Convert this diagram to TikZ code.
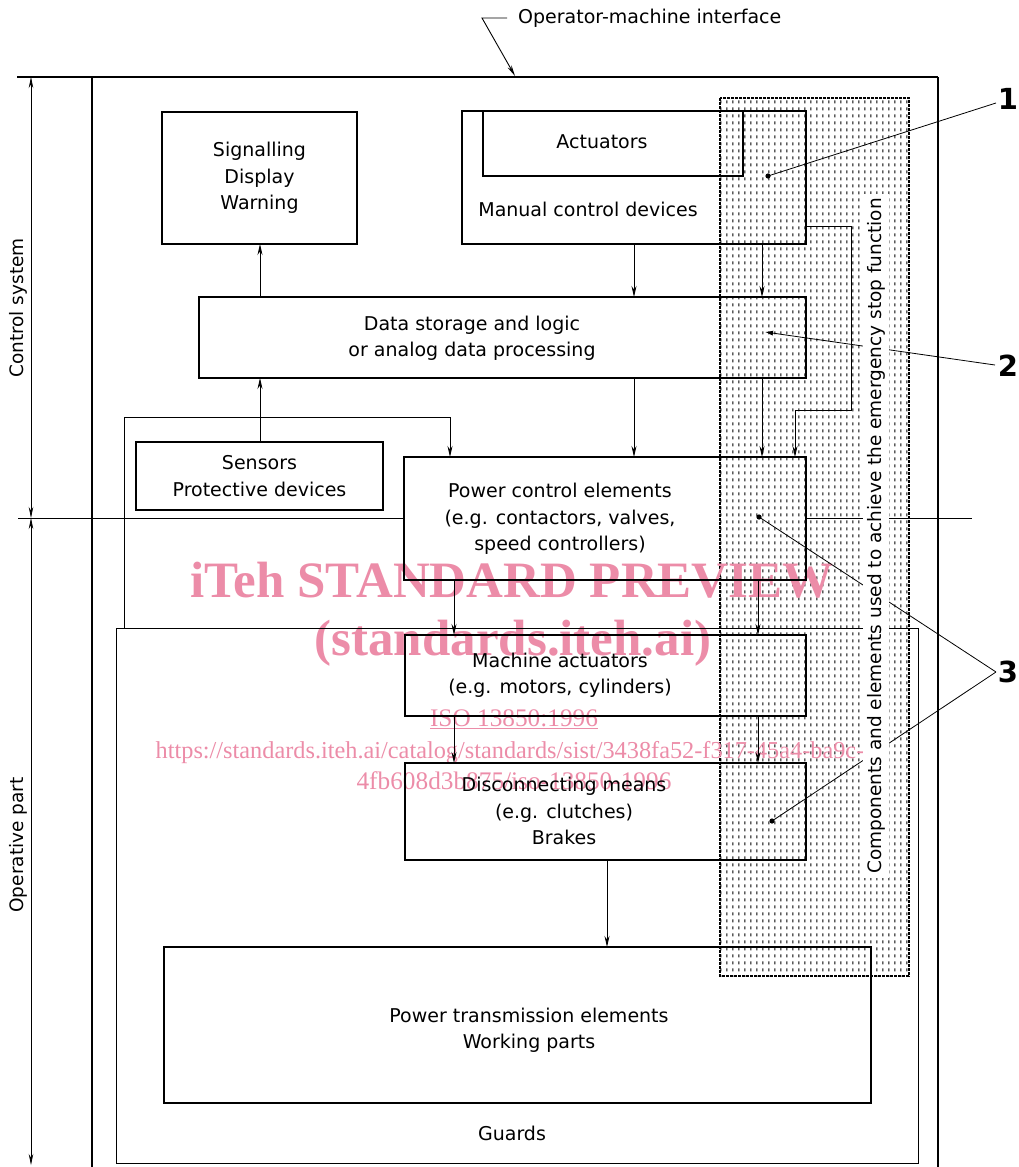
\documentclass[tikz,border=0pt]{standalone}
\usepackage{fontspec}
\setmainfont{DejaVu Sans}
\newfontfamily\wmfont{Liberation Serif}
\usetikzlibrary{arrows.meta,patterns.meta}
\pgfdeclarepattern{
  name=vdash,
  type=uncolored,
  bottom left={\pgfpoint{0pt}{0pt}},
  top right={\pgfpoint{6.3pt}{6.7pt}},
  tile size={\pgfpoint{6.3pt}{6.7pt}},
  code={
    \pgfsetlinewidth{1.1pt}
    \pgfpathmoveto{\pgfpoint{3.15pt}{1.8pt}}
    \pgfpathlineto{\pgfpoint{3.15pt}{4.9pt}}
    \pgfusepath{stroke}
  }
}
\definecolor{wm}{RGB}{236,140,168}
\begin{document}
\begin{tikzpicture}[x=1pt,y=-1pt,
  every node/.style={font={\fontsize{19pt}{26.5pt}\selectfont}},
  blk/.style={draw, line width=1.8pt, inner sep=0pt, outer sep=0pt, align=center},
  thinbox/.style={draw, line width=0.9pt, inner sep=0pt, outer sep=0pt},
  txt/.style={align=center, inner sep=0pt},
  arr/.style={line width=0.9pt, -{Stealth[length=11pt,width=5pt]}},
  dimarr/.style={line width=0.8pt, {Stealth[length=11pt,width=4.5pt]}-{Stealth[length=11pt,width=4.5pt]}},
  frame/.style={line width=1.5pt},
  numlbl/.style={font={\fontsize{29pt}{29pt}\selectfont\bfseries}, inner sep=0pt}
]
\useasboundingbox (0,0) rectangle (1018,1167);

% shaded region
\fill[pattern=vdash, pattern color=black] (720,98) rectangle (909,976);
\draw[line width=1.6pt, dash pattern=on 3pt off 1pt] (720,98) rectangle (909,976);

% watermark
\begin{scope}[every node/.style={text=wm, inner sep=0pt, anchor=base}]
\node (wm1) at (512,597) {\wmfont\bfseries\fontsize{51pt}{51pt}\selectfont iTeh STANDARD PREVIEW};
\node (wm2) at (513,655) {\wmfont\bfseries\fontsize{51pt}{51pt}\selectfont (standards.iteh.ai)};
\node (wm3) at (514,726) {\wmfont\fontsize{25.3pt}{25pt}\selectfont \underline{ISO 13850:1996}};
\node (wm4) at (510,758) {\wmfont\fontsize{24.3pt}{25pt}\selectfont https://standards.iteh.ai/catalog/standards/sist/3438fa52-f317-45a4-ba9c-};
\node (wm5) at (514,789) {\wmfont\fontsize{25.3pt}{25pt}\selectfont 4fb608d3b875/iso-13850-1996};
\end{scope}

% frame and dimension lines
\coordinate (ftl) at (92,77);
\coordinate (ftr) at (938,77);
\draw[frame] (17,77) -- (ftr);
\draw[frame] (ftl) -- (92,1167);
\draw[frame] (ftr) -- (938,1167);
\coordinate (dtop) at (31,77);
\coordinate (dmid) at (31,518);
\coordinate (dbot) at (31,1165);
\draw[dimarr] (dtop) -- (dmid);
\draw[dimarr] (dmid) -- (dbot);
\node[rotate=90, inner sep=0pt, font={\fontsize{18.5pt}{20pt}\selectfont}] (cs) at (18,308) {Control system};
\node[rotate=90, inner sep=0pt, font={\fontsize{18.5pt}{20pt}\selectfont}] (op) at (18,845) {Operative part};

% operator-machine interface
\node[anchor=west, inner sep=0pt] (omi) at (518,18) {Operator-machine interface};
\coordinate (omiA) at (507,18);
\coordinate (omiB) at (482,18);
\coordinate (omiC) at (515,76);
\draw[line width=0.9pt, -{Stealth[length=11pt,width=4.5pt]}] (omiA) -- (omiB) -- (omiC);

% boxes
\node[blk, minimum width=195pt, minimum height=132pt] (sig) at (259.5,178) {Signalling\\Display\\Warning};
\node[blk, minimum width=344pt, minimum height=133pt] (man) at (634,177.5) {};
\node[blk, minimum width=260pt, minimum height=65pt] (act) at (613,143.5) {};
\node[txt] (actT) at (602,142) {Actuators};
\node[txt] (manT) at (588,209) {Manual control devices};
\node[blk, minimum width=607pt, minimum height=81pt] (data) at (502.5,337.5) {};
\node[txt] (dataT) at (472,338.5) {Data storage and logic\\or analog data processing};
\node[blk, minimum width=247pt, minimum height=68pt] (sens) at (259.5,476) {Sensors\\Protective devices};
\node[blk, minimum width=402pt, minimum height=123pt] (pce) at (605,518.5) {};
\node[txt] (pceT) at (560,519) {Power control elements\\(e.g. contactors, valves,\\speed controllers)};
\node[thinbox, minimum width=802pt, minimum height=535pt] (guards) at (517,895.5) {};
\node[txt] (guardsT) at (512,1133) {Guards};
\node[blk, minimum width=401pt, minimum height=81pt] (mact) at (605.5,675.5) {};
\node[txt] (mactT) at (560,675) {Machine actuators\\(e.g. motors, cylinders)};
\node[blk, minimum width=401pt, minimum height=97pt] (disc) at (605.5,811.5) {};
\node[txt] (discT) at (564,811) {Disconnecting means\\(e.g. clutches)\\Brakes};
\node[blk, minimum width=707pt, minimum height=156pt] (ptrans) at (517.5,1025) {};
\node[txt] (ptransT) at (529,1030) {Power transmission elements\\Working parts};

% horizontal separation line
\coordinate (hl) at (18,518);
\coordinate (hr) at (972,518);
\draw[line width=0.8pt] (hl) -- (pce.west |- hl);
\draw[line width=0.8pt] (pce.east |- hr) -- (hr);

% connector columns
\coordinate (xA) at (260,0);
\coordinate (xB) at (634,0);
\coordinate (xC) at (762,0);
\coordinate (xD) at (454,0);
\coordinate (xE) at (758,0);
\coordinate (xF) at (607,0);
\coordinate (xG) at (124,417);
\coordinate (xH) at (450,417);
\coordinate (lpA) at (851,226);
\coordinate (lpB) at (851,410);
\coordinate (lpC) at (795,410);

\draw[arr] (data.north -| xA) -- (sig.south -| xA);
\draw[arr] (sens.north -| xA) -- (data.south -| xA);
\draw[arr] (man.south -| xB) -- (data.north -| xB);
\draw[arr] (man.south -| xC) -- (data.north -| xC);
\draw[arr] (data.south -| xB) -- (pce.north -| xB);
\draw[arr] (data.south -| xC) -- (pce.north -| xC);
\draw[arr] (man.east |- lpA) -- (lpA) -- (lpB) -- (lpC) -- (pce.north -| lpC);
\draw[arr] (guards.north -| xG) -- (xG) -- (xH) -- (pce.north -| xH);
\draw[arr] (pce.south -| xD) -- (mact.north -| xD);
\draw[arr] (pce.south -| xE) -- (mact.north -| xE);
\draw[arr] (mact.south -| xD) -- (disc.north -| xD);
\draw[arr] (mact.south -| xE) -- (disc.north -| xE);
\draw[arr] (disc.south -| xF) -- (ptrans.north -| xF);

% leaders
\node[numlbl] (n1) at (1008,99) {1};
\node[numlbl] (n2) at (1008,366) {2};
\node[numlbl] (n3) at (1008,672) {3};
\coordinate (p1) at (768,176);
\coordinate (p2) at (765,332);
\coordinate (p3a) at (759,517);
\coordinate (p3b) at (772,821);
\coordinate (v1) at (996,103);
\coordinate (v2) at (995,365);
\coordinate (v3) at (996,672);
\draw[line width=0.8pt] (v1) -- (p1);
\fill (p1) circle (2.6pt);
\draw[line width=0.8pt, -{Latex[length=8pt,width=5pt]}] (v2) -- (p2);
\draw[line width=0.8pt] (v3) -- (p3a);
\draw[line width=0.8pt] (v3) -- (p3b);
\fill (p3a) circle (2.6pt);
\fill (p3b) circle (2.6pt);

% rotated label in shaded area
\node[rotate=90, fill=white, inner sep=4pt, font={\fontsize{18.5pt}{20pt}\selectfont}] (comp) at (876,536) {Components and elements used to achieve the emergency stop function};
\end{tikzpicture}
\end{document}
